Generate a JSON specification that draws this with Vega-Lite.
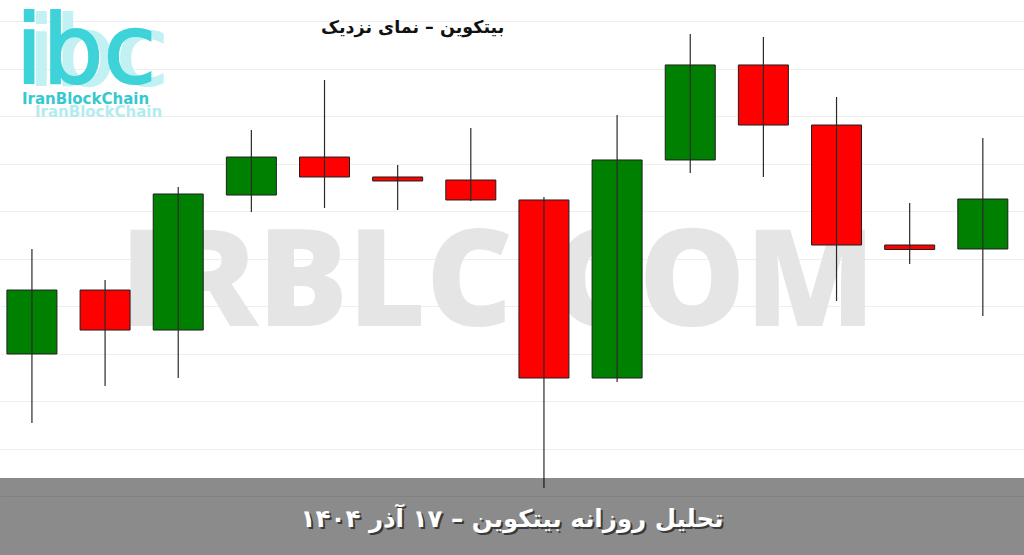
{
  "$schema": "https://vega.github.io/schema/vega-lite/v6.json",
  "width": 1024,
  "height": 555,
  "autosize": {"type": "fit", "contains": "padding"},
  "padding": 0,
  "background": "#ffffff",
  "config": {"view": {"stroke": null}},
  "datasets": {
    "candles": [
      {"date": "2025-11-25", "open": 89000, "close": 89673, "high": 90105, "low": 88273},
      {"date": "2025-11-26", "open": 89673, "close": 89252, "high": 89779, "low": 88663},
      {"date": "2025-11-27", "open": 89252, "close": 90684, "high": 90758, "low": 88747},
      {"date": "2025-11-28", "open": 90673, "close": 91073, "high": 91358, "low": 90494},
      {"date": "2025-11-29", "open": 91073, "close": 90863, "high": 91884, "low": 90537},
      {"date": "2025-11-30", "open": 90863, "close": 90821, "high": 90989, "low": 90516},
      {"date": "2025-12-01", "open": 90831, "close": 90621, "high": 91379, "low": 90610},
      {"date": "2025-12-02", "open": 90621, "close": 88747, "high": 90652, "low": 87589},
      {"date": "2025-12-03", "open": 88747, "close": 91042, "high": 91515, "low": 88705},
      {"date": "2025-12-04", "open": 91042, "close": 92042, "high": 92368, "low": 90905},
      {"date": "2025-12-05", "open": 92042, "close": 91410, "high": 92336, "low": 90863},
      {"date": "2025-12-06", "open": 91410, "close": 90147, "high": 91705, "low": 89558},
      {"date": "2025-12-07", "open": 90147, "close": 90100, "high": 90589, "low": 89947},
      {"date": "2025-12-08", "open": 90105, "close": 90631, "high": 91273, "low": 89400}
    ]
  },
  "resolve": {"scale": {"x": "independent"}, "axis": {"x": "independent"}},
  "layer": [
    {
      "data": {"name": "candles"},
      "mark": {"type": "rule", "opacity": 0},
      "encoding": {
        "x": {"field": "date", "type": "nominal", "sort": null, "axis": null},
        "y": {
          "field": "low",
          "type": "quantitative",
          "scale": {"domain": [86884, 92726], "zero": false, "nice": false},
          "axis": {
            "grid": true,
            "values": [87500, 88000, 88500, 89000, 89500, 90000, 90500, 91000, 91500, 92000, 92500],
            "gridColor": "#eeeeee",
            "gridWidth": 1,
            "labels": false,
            "ticks": false,
            "domain": false,
            "title": null
          }
        }
      }
    },
    {
      "data": {"values": [{"label": "IRBLC.COM", "pos": 0.486, "price": 89294}]},
      "mark": {"type": "text", "font": "Open Sans", "fontWeight": 800, "fontSize": 134, "fill": "#e5e5e5", "align": "center", "baseline": "alphabetic"},
      "encoding": {
        "x": {"field": "pos", "type": "quantitative", "scale": {"domain": [0, 1], "nice": false, "zero": false}, "axis": null},
        "y": {"field": "price", "type": "quantitative"},
        "text": {"field": "label"}
      }
    },
    {
      "data": {"values": [{"label": "ibc", "pos": 0.096, "price": 91830}]},
      "mark": {"type": "text", "font": "DejaVu Sans", "fontWeight": "normal", "fontSize": 96, "fill": "#c2f1f3", "stroke": "#c2f1f3", "strokeWidth": 2, "align": "center", "baseline": "alphabetic"},
      "encoding": {
        "x": {"field": "pos", "type": "quantitative", "scale": {"domain": [0, 1], "nice": false, "zero": false}, "axis": null},
        "y": {"field": "price", "type": "quantitative"},
        "text": {"field": "label"}
      }
    },
    {
      "data": {"values": [{"label": "ibc", "pos": 0.084, "price": 91852}]},
      "mark": {"type": "text", "font": "DejaVu Sans", "fontWeight": "normal", "fontSize": 96, "fill": "#3dd3d8", "stroke": "#3dd3d8", "strokeWidth": 2, "align": "center", "baseline": "alphabetic"},
      "encoding": {
        "x": {"field": "pos", "type": "quantitative", "scale": {"domain": [0, 1], "nice": false, "zero": false}, "axis": null},
        "y": {"field": "price", "type": "quantitative"},
        "text": {"field": "label"}
      }
    },
    {
      "data": {"values": [{"label": "IranBlockChain", "pos": 0.0962, "price": 91547}]},
      "mark": {"type": "text", "font": "DejaVu Sans", "fontWeight": "bold", "fontSize": 15, "fill": "#b3ecee", "align": "center", "baseline": "middle"},
      "encoding": {
        "x": {"field": "pos", "type": "quantitative", "scale": {"domain": [0, 1], "nice": false, "zero": false}, "axis": null},
        "y": {"field": "price", "type": "quantitative"},
        "text": {"field": "label"}
      }
    },
    {
      "data": {"values": [{"label": "IranBlockChain", "pos": 0.0835, "price": 91684}]},
      "mark": {"type": "text", "font": "DejaVu Sans", "fontWeight": "bold", "fontSize": 15, "fill": "#35c9cf", "align": "center", "baseline": "middle"},
      "encoding": {
        "x": {"field": "pos", "type": "quantitative", "scale": {"domain": [0, 1], "nice": false, "zero": false}, "axis": null},
        "y": {"field": "price", "type": "quantitative"},
        "text": {"field": "label"}
      }
    },
    {
      "data": {"name": "candles"},
      "mark": {"type": "bar", "stroke": "#1e1e1e", "strokeWidth": 1},
      "encoding": {
        "x": {
          "field": "date", "type": "nominal", "sort": null, "axis": null,
          "scale": {"paddingInner": 0.3165, "paddingOuter": 0.158, "align": 0.3}
        },
        "y": {"field": "open", "type": "quantitative"},
        "y2": {"field": "close"},
        "color": {
          "condition": {"test": "datum.close > datum.open", "value": "#008000"},
          "value": "#ff0000"
        }
      }
    },
    {
      "data": {"name": "candles"},
      "mark": {"type": "rule", "color": "#2a2a2a", "strokeWidth": 1.2},
      "encoding": {
        "x": {
          "field": "date", "type": "nominal", "sort": null, "axis": null,
          "scale": {"paddingInner": 0.3165, "paddingOuter": 0.158, "align": 0.3}
        },
        "y": {"field": "low", "type": "quantitative"},
        "y2": {"field": "high"}
      }
    },
    {
      "data": {"values": [{"top": 87694, "bottom": 86884, "left": 0, "right": 1}]},
      "mark": {"type": "rect", "fill": "#000000", "opacity": 0.455},
      "encoding": {
        "x": {"field": "left", "type": "quantitative", "scale": {"domain": [0, 1], "nice": false, "zero": false}, "axis": null},
        "x2": {"field": "right"},
        "y": {"field": "top", "type": "quantitative"},
        "y2": {"field": "bottom"}
      }
    },
    {
      "data": {"values": [{"label": "بیتکوین – نمای نزدیک", "pos": 0.403, "price": 92431}]},
      "mark": {"type": "text", "font": "DejaVu Sans", "fontWeight": "bold", "fontSize": 17.5, "fill": "#111111", "align": "center", "baseline": "middle"},
      "encoding": {
        "x": {"field": "pos", "type": "quantitative", "scale": {"domain": [0, 1], "nice": false, "zero": false}, "axis": null},
        "y": {"field": "price", "type": "quantitative"},
        "text": {"field": "label"}
      }
    },
    {
      "data": {"values": [{"label": "تحلیل روزانه بیتکوین – ۱۷ آذر ۱۴۰۴", "pos": 0.5, "price": 87252}]},
      "mark": {"type": "text", "font": "DejaVu Sans", "fontWeight": "bold", "fontSize": 24.5, "fill": "#3a3a3a", "align": "center", "baseline": "middle", "dx": 2, "dy": 2},
      "encoding": {
        "x": {"field": "pos", "type": "quantitative", "scale": {"domain": [0, 1], "nice": false, "zero": false}, "axis": null},
        "y": {"field": "price", "type": "quantitative"},
        "text": {"field": "label"}
      }
    },
    {
      "data": {"values": [{"label": "تحلیل روزانه بیتکوین – ۱۷ آذر ۱۴۰۴", "pos": 0.5, "price": 87252}]},
      "mark": {"type": "text", "font": "DejaVu Sans", "fontWeight": "bold", "fontSize": 24.5, "fill": "#ffffff", "align": "center", "baseline": "middle"},
      "encoding": {
        "x": {"field": "pos", "type": "quantitative", "scale": {"domain": [0, 1], "nice": false, "zero": false}, "axis": null},
        "y": {"field": "price", "type": "quantitative"},
        "text": {"field": "label"}
      }
    }
  ]
}
